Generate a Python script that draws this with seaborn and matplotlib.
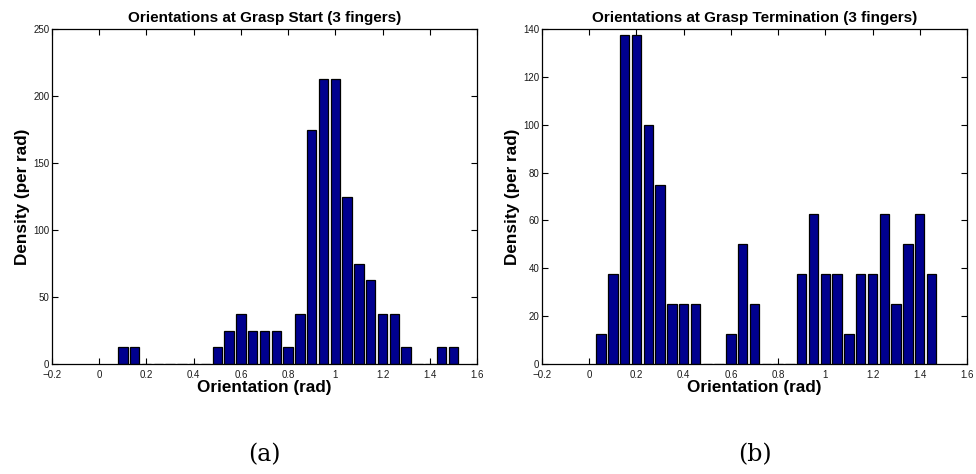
import numpy as np
import pandas as pd
import matplotlib
matplotlib.use("Agg")
import matplotlib.pyplot as plt
import seaborn as sns

# Bin centres (rad) and densities (per rad)

start_centers = [0.10, 0.15, 0.20, 0.25, 0.30, 0.35, 0.40, 0.45, 0.50, 0.55,
                 0.60, 0.65, 0.70, 0.75, 0.80, 0.85, 0.90, 0.95, 1.00, 1.05,
                 1.10, 1.15, 1.20, 1.25, 1.30, 1.35, 1.40, 1.45, 1.50]
start_density = [12.5, 12.5, 0, 0, 0, 0, 0, 0, 12.5, 25,
                 37.5, 25, 25, 25, 12.5, 37.5, 175, 212.5, 212.5, 125,
                 75, 62.5, 37.5, 37.5, 12.5, 0, 0, 12.5, 12.5]

term_centers = [0.05, 0.10, 0.15, 0.20, 0.25, 0.30, 0.35, 0.40, 0.45, 0.50,
                0.55, 0.60, 0.65, 0.70, 0.75, 0.80, 0.85, 0.90, 0.95, 1.00,
                1.05, 1.10, 1.15, 1.20, 1.25, 1.30, 1.35, 1.40, 1.45]
term_density = [12.5, 37.5, 137.5, 137.5, 100, 75, 25, 25, 25, 0,
                0, 12.5, 50, 25, 0, 0, 0, 37.5, 62.5, 37.5,
                37.5, 12.5, 37.5, 37.5, 62.5, 25, 50, 62.5, 37.5]

titles = ["Orientations at Grasp Start (3 fingers)",
          "Orientations at Grasp Termination (3 fingers)"]
panel_labels = ["(a)", "(b)"]
x_ticks = [-0.2, 0, 0.2, 0.4, 0.6, 0.8, 1.0, 1.2, 1.4, 1.6]
x_tick_labels = ["\u22120.2", "0", "0.2", "0.4", "0.6", "0.8", "1", "1.2", "1.4", "1.6"]
y_ticks = [[0, 50, 100, 150, 200, 250], [0, 20, 40, 60, 80, 100, 120, 140]]

bin_width = 0.05
bar_color = "#00008F"

sns.set_style("ticks")
plt.rcParams["font.family"] = ["Liberation Sans", "DejaVu Sans"]
plt.rcParams["text.color"] = "black"
plt.rcParams["axes.labelcolor"] = "black"

fig = plt.figure(figsize=(9.76, 4.74), dpi=100)
ax1 = fig.add_axes([52 / 976, 1 - 364 / 474, 425 / 976, 335 / 474])
ax2 = fig.add_axes([542 / 976, 1 - 364 / 474, 425 / 976, 335 / 474])

panels = [(ax1, start_centers, start_density),
          (ax2, term_centers, term_density)]

for i, (ax, centers, dens) in enumerate(panels):
    df = pd.DataFrame({"x": centers, "d": dens})
    edges = [c - bin_width / 2 for c in centers] + [centers[-1] + bin_width / 2]
    sns.histplot(data=df, x="x", weights="d", bins=edges, shrink=0.8,
                 color=bar_color, edgecolor="black", linewidth=0.9,
                 alpha=1, ax=ax)

    ax.set_xlim(-0.2, 1.6)
    ax.set_ylim(y_ticks[i][0], y_ticks[i][-1])
    ax.set_xticks(x_ticks)
    ax.set_xticklabels(x_tick_labels)
    ax.set_yticks(y_ticks[i])
    ax.tick_params(direction="in", top=True, right=True, labelsize=7,
                   length=4, width=0.8, labelcolor="#1a1a1a", color="black")
    ax.tick_params(axis="x", pad=4)
    ax.tick_params(axis="y", pad=2)
    for s in ax.spines.values():
        s.set_visible(True)
        s.set_linewidth(0.9)
        s.set_color("black")

    ax.set_title(titles[i], fontsize=11, fontweight="bold", pad=5, color="black")
    ax.set_xlabel("Orientation (rad)", fontsize=12.3, fontweight="bold", labelpad=0)
    ax.set_ylabel("Density (per rad)", fontsize=12.3, fontweight="bold", labelpad=2)

    ax.text(0.5, -0.27, panel_labels[i], transform=ax.transAxes,
            ha="center", va="center", fontsize=17, family="DejaVu Serif")

fig.savefig("out.png", dpi=100)
